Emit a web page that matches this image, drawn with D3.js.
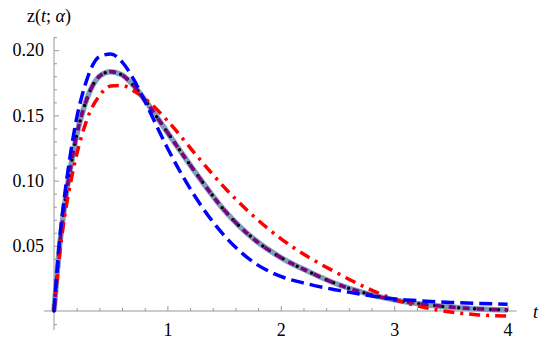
<!DOCTYPE html>
<html>
<head>
<meta charset="utf-8">
<script src="https://cdn.jsdelivr.net/npm/d3@7"></script>
<style>
	body { margin: 0; background: #fff; }
	svg { display: block; }
	.axis path, .axis line { stroke: #999; }
	.axis text, .lbl { font-family: "Liberation Serif", "Times New Roman", "Nimbus Roman", "FreeSerif", "DejaVu Serif", "Noto Serif", serif; font-size: 18px; fill: #000; }
</style>
</head>
<body>
<svg id="chart" width="550" height="344"></svg>
<script>
(function (d3) {
	"use strict";

	/***** Data *****/
	var tValues = [0, 0.05, 0.1, 0.15, 0.2, 0.25, 0.3, 0.4, 0.5, 0.6, 0.7, 0.8, 1.0, 1.25, 1.5, 1.75, 2, 2.25, 2.5, 2.75, 3, 3.25, 3.5, 3.75, 4];

	// exact curve, drawn three times (solid, dotted, dashed)
	var zMain = [0, 0.050, 0.085, 0.112, 0.135, 0.152, 0.165, 0.180, 0.1835, 0.181, 0.173, 0.162, 0.137, 0.106, 0.0775, 0.056, 0.041, 0.030, 0.0205, 0.0135, 0.0085, 0.0052, 0.003, 0.0016, 0.0008];
	var zBlue = [0, 0.055, 0.093, 0.123, 0.148, 0.166, 0.180, 0.195, 0.197, 0.191, 0.178, 0.161, 0.125, 0.087, 0.058, 0.038, 0.0265, 0.0205, 0.016, 0.0122, 0.0092, 0.0077, 0.0066, 0.0058, 0.0051];
	var zRed  = [0, 0.044, 0.076, 0.100, 0.120, 0.136, 0.149, 0.165, 0.1725, 0.173, 0.169, 0.163, 0.146, 0.120, 0.095, 0.0735, 0.0555, 0.041, 0.029, 0.018, 0.009, 0.003, -0.0008, -0.003, -0.0038];

	var xMajorTicks = [1, 2, 3, 4];
	var yMajorTicks = [0.05, 0.10, 0.15, 0.20];

	/***** Scales *****/
	var x = d3.scaleLinear().domain([0, 4]).range([54, 507.6]);
	var y = d3.scaleLinear().domain([0, 0.2]).range([311, 50.2]);

	const xMin = -0.088, xMax = 4.08;
	const yMin = -0.0146, yMax = 0.21;

	var svg = d3.select("#chart");

	/***** Axes *****/
	var xMinor = d3.range(0.2, 4.01, 0.2).filter(function (v) { return Math.abs(v - Math.round(v)) > 1e-6; });
	var yMinor = d3.range(-0.01, 0.2101, 0.01).filter(function (v) { return Math.abs(v * 20 - Math.round(v * 20)) > 1e-6; });

	var gx = svg.append("g").attr("class", "axis").attr("transform", "translate(0," + y(0) + ")");
	gx.append("line").attr("x1", x(xMin)).attr("x2", x(xMax)).attr("y1", 0).attr("y2", 0);
	gx.call(d3.axisBottom(x).tickValues(xMajorTicks).tickSize(-5).tickPadding(12).tickFormat(d3.format("d")));
	gx.select(".domain").remove();
	var gxm = svg.append("g").attr("class", "axis").attr("transform", "translate(0," + y(0) + ")");
	gxm.call(d3.axisBottom(x).tickValues(xMinor).tickSize(-3).tickFormat(""));
	gxm.select(".domain").remove();

	var gy = svg.append("g").attr("class", "axis").attr("transform", "translate(" + x(0) + ",0)");
	gy.append("line").attr("x1", 0).attr("x2", 0).attr("y1", y(yMin)).attr("y2", y(yMax));
	gy.call(d3.axisLeft(y).tickValues(yMajorTicks).tickSize(-5).tickPadding(10).tickFormat(d3.format(".2f")));
	gy.select(".domain").remove();
	var gym = svg.append("g").attr("class", "axis").attr("transform", "translate(" + x(0) + ",0)");
	gym.call(d3.axisLeft(y).tickValues(yMinor).tickSize(-3).tickFormat(""));
	gym.select(".domain").remove();

	// d3 axis puts its own font attrs on the group; drop them so the css wins
	svg.selectAll(".axis").attr("font-family", null).attr("font-size", null);

	/***** Curves *****/
	var line = d3.line()
		.x(function (d) { return x(d[0]); })
		.y(function (d) { return y(d[1]); })
		.curve(d3.curveMonotoneX);

	function pairs(zs) {
		return tValues.map(function (t, i) { return [t, zs[i]]; });
	}

	var series = [
		{ z: zMain, color: "#7f9dbd", width: 5.5, dash: null, cap: "butt" },
		{ z: zMain, color: "#000", width: 3.5, dash: "0,8", cap: "round" },
		{ z: zMain, color: "#800080", width: 3.5, dash: "7,7", cap: "butt" },
		{ z: zRed, color: "#ff0000", width: 3.5, dash: "11,6,3,6", cap: "butt" },
		{ z: zBlue, color: "#0000ff", width: 3.5, dash: "13,6", cap: "butt" }
	];

	series.forEach(function (s) {
		svg.append("path")
			.datum(pairs(s.z))
			.attr("fill", "none")
			.attr("stroke", s.color)
			.attr("stroke-width", s.width)
			.attr("stroke-dasharray", s.dash)
			.attr("stroke-linecap", s.cap)
			.attr("d", line);
	});

	/***** Labels *****/
	var title = svg.append("text")
		.attr("class", "lbl")
		.attr("x", 27).attr("y", 22);
	title.append("tspan").text("z(");
	title.append("tspan").style("font-style", "italic").text("t");
	title.append("tspan").text("; ");
	title.append("tspan").style("font-style", "italic").text("α");
	title.append("tspan").text(")");

	svg.append("text")
		.attr("class", "lbl")
		.attr("x", 533).attr("y", 318)
		.style("font-style", "italic")
		.text("t");

})(d3);
</script>
</body>
</html>
